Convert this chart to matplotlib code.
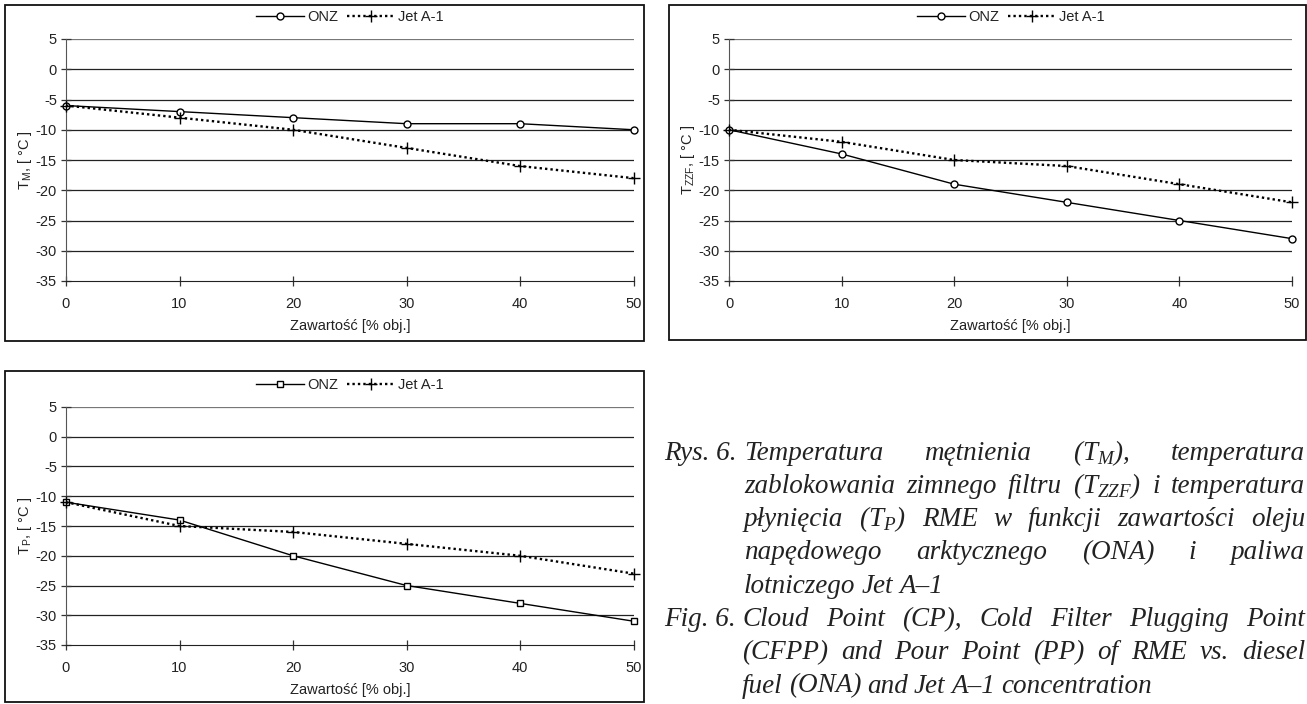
import numpy as np
import matplotlib
matplotlib.use("Agg")
import matplotlib.pyplot as plt
from matplotlib.patches import Rectangle

# Data
zawartosc = [0, 10, 20, 30, 40, 50]

tm_onz = [-6, -7, -8, -9, -9, -10]
tm_jet = [-6, -8, -10, -13, -16, -18]

tzzf_onz = [-10, -14, -19, -22, -25, -28]
tzzf_jet = [-10, -12, -15, -16, -19, -22]

tp_onz = [-11, -14, -20, -25, -28, -31]
tp_jet = [-11, -15, -16, -18, -20, -23]

yticks = [5, 0, -5, -10, -15, -20, -25, -30, -35]
xlabel = "Zawartość [% obj.]"

# caption lines (word lists), last line of each block is not justified
rys_lines = [
    ["Temperatura", "mętnienia", r"(T$_{\mathregular{M}}$),", "temperatura"],
    ["zablokowania", "zimnego", "filtru", r"(T$_{\mathregular{ZZF}}$)", "i", "temperatura"],
    ["płynięcia", r"(T$_{\mathregular{P}}$)", "RME", "w", "funkcji", "zawartości", "oleju"],
    ["napędowego", "arktycznego", "(ONA)", "i", "paliwa"],
    ["lotniczego", "Jet", "A–1"],
]
fig_lines = [
    ["Cloud", "Point", "(CP),", "Cold", "Filter", "Plugging", "Point"],
    ["(CFPP)", "and", "Pour", "Point", "(PP)", "of", "RME", "vs.", "diesel"],
    ["fuel", "(ONA)", "and", "Jet", "A–1", "concentration"],
]

W, H = 1307, 704
plt.rcParams["font.family"] = ["Liberation Sans", "DejaVu Sans"]
plt.rcParams["axes.unicode_minus"] = False
fig = plt.figure(figsize=(W / 100, H / 100), dpi=100)
fig.patch.set_facecolor("white")

txt_col = "#222222"


def px_ax(x0, x1, y0, y1):
    # pixel box (from top-left) -> figure axes
    return fig.add_axes([x0 / W, 1 - y1 / H, (x1 - x0) / W, (y1 - y0) / H])


def frame(x0, x1, y0, y1):
    fig.patches.append(Rectangle((x0 / W, 1 - y1 / H), (x1 - x0) / W, (y1 - y0) / H,
                                 transform=fig.transFigure, fill=False,
                                 edgecolor="#111111", linewidth=1.3))


def panel(box, onz, jet, ylab, marker):
    ax = px_ax(*box)
    ax.set_xlim(0, 50)
    ax.set_ylim(-35, 5)
    ax.set_yticks(yticks)
    ax.set_xticks(zawartosc)
    ax.axhline(5, color="#777777", lw=0.9, zorder=1)
    for y in yticks[1:-1]:
        ax.axhline(y, color="#222222", lw=0.9, zorder=1)
    for s in ["top", "right"]:
        ax.spines[s].set_visible(False)
    ax.spines["left"].set_color("#555555")
    ax.spines["bottom"].set_color("#222222")
    ax.tick_params(direction="inout", length=7, width=0.9, labelsize=10.5,
                   labelcolor=txt_col, color="#333333")
    ax.tick_params(axis="x", pad=8)
    ax.tick_params(axis="y", pad=3)
    ax.plot(zawartosc, onz, color="black", lw=1.0, marker=marker, ms=5 if marker == "o" else 4.8,
            mfc="white", mec="black", mew=1.0, label="ONZ", zorder=3, clip_on=False)
    ax.plot(zawartosc, jet, color="black", lw=1.7, ls=(0, (1, 1.3)), marker="+", ms=8,
            mew=1.0, label="Jet A-1", zorder=3, clip_on=False)
    ax.set_xlabel(xlabel, fontsize=10.5, color=txt_col, labelpad=6)
    ax.set_ylabel(ylab, fontsize=10.5, color=txt_col, labelpad=1)
    ax.legend(loc="center", bbox_to_anchor=(0.5, 1 + 22 / (box[3] - box[2])), ncol=2,
              frameon=False, fontsize=10.5, handlelength=3.3, handletextpad=0.2,
              columnspacing=0.6, labelcolor=txt_col)
    return ax


frame(4.5, 644, 4.5, 341)
frame(669, 1306, 4.5, 340)
frame(4.5, 644, 371, 702)

panel((66, 633.5, 39, 281), tm_onz, tm_jet, r"T$_{\mathregular{M}}$, [ °C ]", "o")
panel((729, 1292, 39, 281), tzzf_onz, tzzf_jet, r"T$_{\mathregular{ZZF}}$, [ °C ]", "o")
panel((66, 633.5, 407, 645), tp_onz, tp_jet, r"T$_{\mathregular{P}}$, [ °C ]", "s")

# caption, justified lines in italic serif
cap_kw = dict(fontsize=19.5, family="Liberation Serif", style="italic", color="#222222",
              va="center", ha="left", transform=fig.transFigure)
renderer = fig.canvas.get_renderer()


def put_line(words, x0, x1, y, justify):
    ts = [fig.text(0, 1 - y / H, w, **cap_kw) for w in words]
    widths = [t.get_window_extent(renderer).width for t in ts]
    if justify and len(ts) > 1:
        gap = (x1 - x0 - sum(widths)) / (len(ts) - 1)
    else:
        gap = 6.0
    x = x0
    for t, w in zip(ts, widths):
        t.set_x(x / W)
        x += w + gap


line_h = 33.3
y = 453
fig.text(664 / W, 1 - y / H, "Rys. 6.", **cap_kw)
for i, words in enumerate(rys_lines):
    put_line(words, 744, 1305, y, i < len(rys_lines) - 1)
    y += line_h
fig.text(664 / W, 1 - y / H, "Fig. 6.", **cap_kw)
for i, words in enumerate(fig_lines):
    put_line(words, 742, 1305, y, i < len(fig_lines) - 1)
    y += line_h

fig.savefig("out.png", dpi=100)
